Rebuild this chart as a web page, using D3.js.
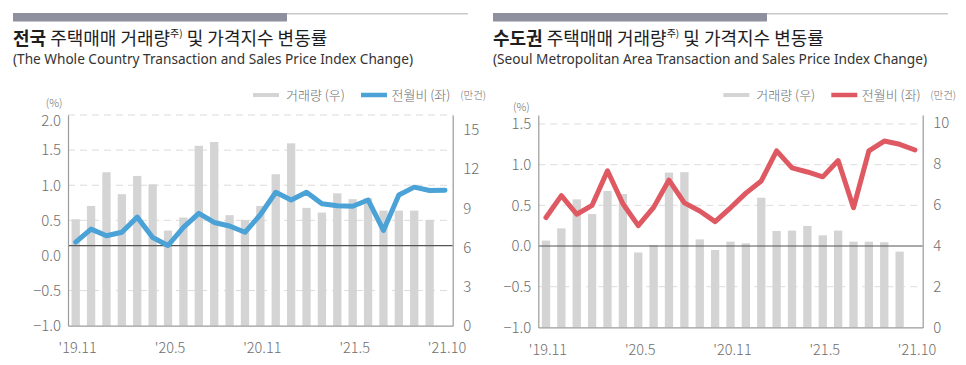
<!DOCTYPE html>
<html><head><meta charset="utf-8">
<script src="https://cdn.jsdelivr.net/npm/d3@7"></script>
<style>body{margin:0;background:#fff}svg{display:block}</style>
</head><body>
<svg id="c" width="966" height="365"></svg>
<script>
// ---------- data ----------
const months = ["19.11","19.12","20.1","20.2","20.3","20.4","20.5","20.6","20.7","20.8","20.9","20.10",
                "20.11","20.12","21.1","21.2","21.3","21.4","21.5","21.6","21.7","21.8","21.9","21.10","21.11"];
const tickIndex = [0, 6, 12, 18, 24];
const tickText = ["'19.11", "'20.5", "'20.11", "'21.5", "'21.10"];

// 전국 (whole country)
const natVolume = [8.16, 9.18, 11.76, 10.08, 11.48, 10.84, 7.29, 8.29, 13.79, 14.08, 8.47, 8.11,
                   9.18, 11.61, 13.98, 9.03, 8.67, 10.15, 9.7, 9.77, 8.82, 8.82, 8.82, 8.11, null];
const natChange = [0.19, 0.375, 0.28, 0.33, 0.546, 0.256, 0.142, 0.40, 0.60, 0.47, 0.42, 0.33,
                   0.58, 0.90, 0.79, 0.90, 0.735, 0.707, 0.70, 0.79, 0.356, 0.86, 0.973, 0.925, 0.93];
const natLeftTicks = [-1, -0.5, 0, 0.5, 1, 1.5, 2];
const natRightTicks = [0, 3, 6, 9, 12, 15];

// 수도권 (Seoul metropolitan area)
const seoulVolume = [4.25, 4.85, 6.27, 5.55, 6.68, 6.53, 3.67, 4.03, 7.58, 7.6, 4.31, 3.79,
                     4.2, 4.12, 6.35, 4.72, 4.74, 4.97, 4.51, 4.74, 4.2, 4.2, 4.17, 3.71, null];
const seoulChange = [0.35, 0.62, 0.39, 0.50, 0.925, 0.52, 0.25, 0.475, 0.81, 0.53, 0.43, 0.30,
                     0.47, 0.65, 0.80, 1.17, 0.96, 0.91, 0.85, 1.05, 0.47, 1.17, 1.29, 1.25, 1.18];
const seoulLeftTicks = [-1, -0.5, 0, 0.5, 1, 1.5];
const seoulRightTicks = [0, 2, 4, 6, 8, 10];

const legendVolume = "거래량 (우)";
const legendChange = "전월비 (좌)";
const unitLeft = "(%)";
const unitRight = "(만건)";

// ---------- drawing ----------
const svg = d3.select("#c");
const FONT = "'Noto Sans CJK KR', 'Noto Sans', sans-serif";
const LATIN = "'Noto Sans', 'Noto Sans CJK KR', sans-serif";
const TXT = "#6e6e6e";

function drawPanel(cfg) {
  const g = svg.append("g");
  // header band
  g.append("rect").attr("x", cfg.px).attr("y", 13).attr("width", 274).attr("height", 8.5).attr("fill", "#8e909f");
  g.append("line").attr("x1", cfg.px + 274).attr("x2", cfg.px + 455).attr("y1", 13.7).attr("y2", 13.7)
    .attr("stroke", "#c9c9c9").attr("stroke-width", 1.4);
  const t = g.append("text").attr("x", cfg.px).attr("y", 45).attr("font-family", FONT)
    .attr("font-size", 18).attr("fill", "#1e1e1e");
  t.append("tspan").attr("font-weight", 700).text(cfg.titleBold);
  t.append("tspan").text(" 주택매매 거래량");
  t.append("tspan").attr("font-size", 10).attr("dy", -8).text("주)");
  t.append("tspan").attr("dy", 8).text(" 및 가격지수 변동률");
  g.append("text").attr("x", cfg.px).attr("y", 64).attr("font-family", LATIN).attr("font-size", 13.5)
    .attr("fill", "#333").attr("textLength", cfg.subW).attr("lengthAdjust", "spacingAndGlyphs").text(cfg.subtitle);

  const n = months.length;
  const x = d3.scaleBand().domain(d3.range(n)).range([cfg.x0, cfg.x1]).paddingInner(0.46).paddingOuter(0.23);
  const yL = d3.scaleLinear().domain(cfg.leftDomain).range([cfg.bottom, cfg.top]);
  const yR = d3.scaleLinear().domain(cfg.rightDomain).range([cfg.bottom, cfg.top]);

  // gridlines
  g.append("g").selectAll("line").data(cfg.leftTicks.filter(v => v !== 0 && v !== cfg.leftDomain[0]))
    .join("line").attr("x1", cfg.x0).attr("x2", cfg.x1).attr("y1", d => yL(d)).attr("y2", d => yL(d))
    .attr("stroke", "#dcdcdc").attr("stroke-width", 1).attr("stroke-dasharray", "7,5");

  // bars
  g.append("g").selectAll("rect").data(cfg.volume.map((v, i) => ({v, i})).filter(d => d.v != null))
    .join("rect").attr("x", d => x(d.i)).attr("width", x.bandwidth())
    .attr("y", d => yR(d.v)).attr("height", d => yR(0) - yR(d.v)).attr("fill", "#d4d4d4");

  // dark base line
  g.append("line").attr("x1", cfg.x0).attr("x2", cfg.x1).attr("y1", yL(cfg.baseLine)).attr("y2", yL(cfg.baseLine))
    .attr("stroke", "#555").attr("stroke-width", 1.1);

  // axes
  const ax = g.append("g").attr("font-family", FONT);
  const left = ax.append("g").attr("transform", `translate(${cfg.x0},0)`)
    .call(d3.axisLeft(yL).tickValues(cfg.leftTicks).tickFormat(d3.format(".1f")).tickSize(0).tickPadding(7));
  const right = ax.append("g").attr("transform", `translate(${cfg.x1},0)`)
    .call(d3.axisRight(yR).tickValues(cfg.rightTicks).tickFormat(d3.format("d")).tickSize(0).tickPadding(10.5));
  const bottom = ax.append("g").attr("transform", `translate(0,${cfg.bottom})`)
    .call(d3.axisBottom(x).tickValues(tickIndex).tickFormat(i => tickText[tickIndex.indexOf(i)]).tickSize(0).tickPadding(17));
  [left, right, bottom].forEach(a => {
    a.select(".domain").attr("stroke", "#9b9b9b").attr("stroke-width", 1.2);
    a.selectAll("text").attr("font-size", 15).attr("fill", TXT).attr("font-weight", 300).attr("font-family", FONT);
  });
  bottom.selectAll("text").attr("font-size", 14.5).attr("dx", 2);
  left.selectAll(".tick text").filter(d => d === cfg.leftDomain[1]).attr("y", 6);

  // line
  g.append("path").datum(cfg.change)
    .attr("d", d3.line().x((d, i) => x(i) + x.bandwidth() / 2).y(d => yL(d)))
    .attr("fill", "none").attr("stroke", cfg.color).attr("stroke-width", 5)
    .attr("stroke-linejoin", "round").attr("stroke-linecap", "round");

  // units
  g.append("text").attr("x", cfg.x0 - cfg.pctDx).attr("y", cfg.pctY).attr("text-anchor", "end")
    .attr("font-family", FONT).attr("font-size", 11).attr("fill", TXT).attr("font-weight", 300).text(unitLeft);
  g.append("text").attr("x", cfg.x1 + 7.5).attr("y", 99).attr("font-family", FONT).attr("font-size", 10.5)
    .attr("fill", TXT).attr("font-weight", 300).text(unitRight);

  // legend
  const ly = 95;
  g.append("line").attr("x1", cfg.x0 + 185).attr("x2", cfg.x0 + 211).attr("y1", ly).attr("y2", ly)
    .attr("stroke", "#d4d4d4").attr("stroke-width", 4);
  g.append("text").attr("x", cfg.x0 + 218).attr("y", ly + 4.5).attr("font-family", FONT).attr("font-size", 13)
    .attr("fill", TXT).attr("font-weight", 300).text(legendVolume);
  g.append("line").attr("x1", cfg.x0 + 293).attr("x2", cfg.x0 + 319).attr("y1", ly).attr("y2", ly)
    .attr("stroke", cfg.color).attr("stroke-width", 4.5);
  g.append("text").attr("x", cfg.x0 + 323.5).attr("y", ly + 4.5).attr("font-family", FONT).attr("font-size", 13)
    .attr("fill", TXT).attr("font-weight", 300).text(legendChange);
}

drawPanel({
  px: 13, titleBold: "전국", subtitle: "(The Whole Country Transaction and Sales Price Index Change)", subW: 400,
  x0: 68, x1: 452.7, top: 115, bottom: 325.7,
  leftDomain: [-1, 2], rightDomain: [0, 16.15], leftTicks: natLeftTicks, rightTicks: natRightTicks,
  baseLine: 0.14, volume: natVolume, change: natChange, color: "#4aa2d6", pctDx: 5.5, pctY: 107
});
drawPanel({
  px: 493, titleBold: "수도권", subtitle: "(Seoul Metropolitan Area Transaction and Sales Price Index Change)", subW: 434,
  x0: 538.3, x1: 922.7, top: 115, bottom: 327.4,
  leftDomain: [-1, 1.61], rightDomain: [0, 10.4], leftTicks: seoulLeftTicks, rightTicks: seoulRightTicks,
  baseLine: 0, volume: seoulVolume, change: seoulChange, color: "#de5962", pctDx: 8.5, pctY: 111
});
</script>
</body></html>
